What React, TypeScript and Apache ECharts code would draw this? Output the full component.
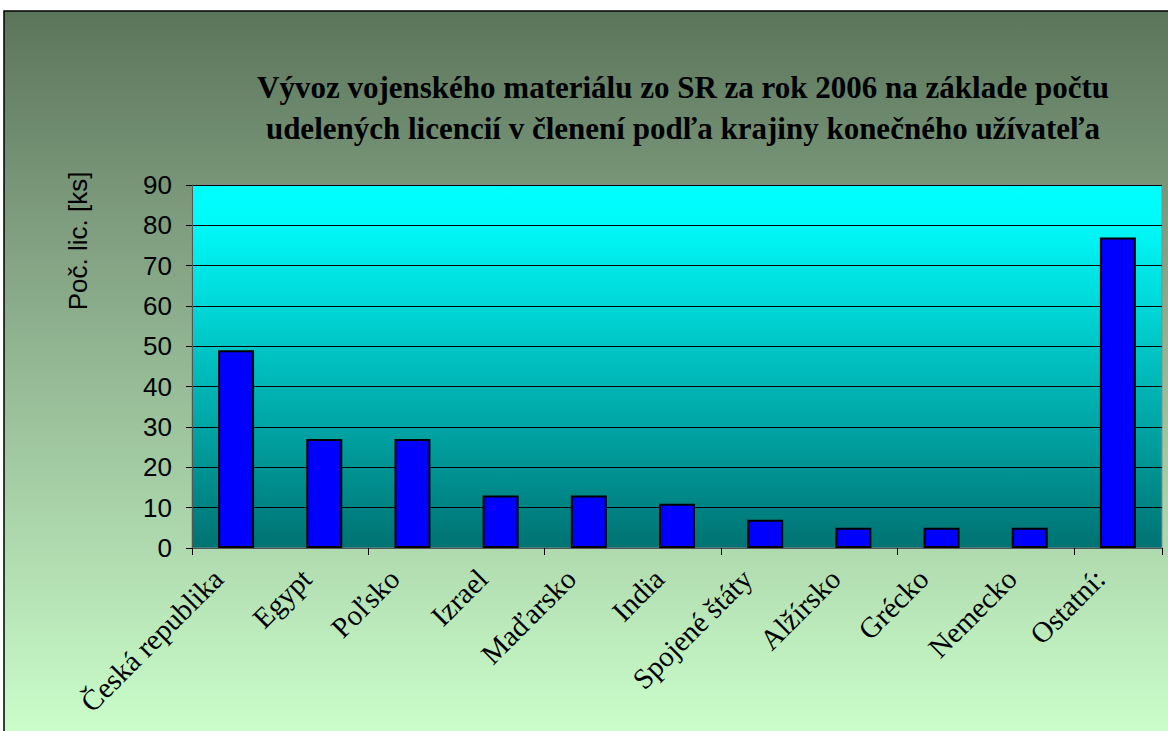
import React, { useEffect, useRef } from "react";
import * as echarts from "echarts";

const categories = [
  "Česká republika",
  "Egypt",
  "Poľsko",
  "Izrael",
  "Maďarsko",
  "India",
  "Spojené štáty",
  "Alžírsko",
  "Grécko",
  "Nemecko",
  "Ostatní:",
];
const licences = [49, 27, 27, 13, 13, 11, 7, 5, 5, 5, 77];
const titleLines = [
  "Vývoz vojenského materiálu zo SR za rok 2006 na základe počtu",
  "udelených licencií v členení podľa krajiny konečného užívateľa",
];
const yAxisName = "Poč. lic. [ks]";

export default function App() {
  const ref = useRef<HTMLDivElement>(null);
  useEffect(() => {
    if (!ref.current) return;
    const chart = echarts.init(ref.current, null, { renderer: "svg" });
    const titleStyle = {
      fontFamily: "Liberation Serif",
      fontWeight: "bold",
      fontSize: 31,
      fill: "#000",
      align: "center",
      verticalAlign: "middle",
    };
    chart.setOption({
      animation: false,
      backgroundColor: "#ffffff",
      graphic: [
        {
          type: "rect",
          z: -10,
          silent: true,
          shape: { x: 4, y: 11, width: 1170, height: 730 },
          style: {
            fill: new echarts.graphic.LinearGradient(0, 0, 0, 1, [
              { offset: 0, color: "#5b755b" },
              { offset: 0.25, color: "#7a977a" },
              { offset: 1, color: "#ccffcc" },
            ]),
            stroke: "#000000",
            lineWidth: 1.5,
          },
        },
        { type: "text", x: 683, y: 87, style: { ...titleStyle, text: titleLines[0] } },
        { type: "text", x: 683, y: 128, style: { ...titleStyle, text: titleLines[1] } },
        {
          type: "text",
          x: 78,
          y: 241,
          rotation: Math.PI / 2,
          style: {
            text: yAxisName,
            fontFamily: "Liberation Sans",
            fontSize: 26,
            fill: "#000",
            align: "center",
            verticalAlign: "middle",
          },
        },
      ],
      grid: [
        {
          left: 192,
          top: 185,
          width: 970,
          height: 363,
          show: true,
          borderColor: "#7f8f8f",
          borderWidth: 1,
          backgroundColor: new echarts.graphic.LinearGradient(0, 0, 0, 1, [
            { offset: 0, color: "#00ffff" },
            { offset: 0.1, color: "#00fafa" },
            { offset: 1, color: "#007272" },
          ]),
        },
        { left: 174, top: 185, width: 970, height: 363, show: false },
      ],
      xAxis: [
        {
          type: "category",
          gridIndex: 0,
          data: categories,
          axisLine: { show: true, lineStyle: { color: "#555555", width: 1 } },
          axisTick: { show: true, length: 7, alignWithLabel: false, lineStyle: { color: "#000" } },
          axisLabel: { show: false },
        },
        {
          type: "category",
          gridIndex: 1,
          data: categories,
          axisLine: { show: false },
          axisTick: { show: false },
          axisLabel: {
            interval: 0,
            rotate: 45,
            margin: 26,
            fontFamily: "Liberation Serif",
            fontSize: 29,
            color: "#000",
          },
        },
      ],
      yAxis: [
        {
          type: "value",
          gridIndex: 0,
          min: 0,
          max: 90,
          interval: 10,
          axisLine: { show: true, lineStyle: { color: "#555555", width: 1 } },
          axisTick: { show: true, length: 6, lineStyle: { color: "#000" } },
          axisLabel: {
            margin: 20,
            fontFamily: "Liberation Sans",
            fontSize: 26,
            color: "#000",
          },
          splitLine: { show: true, lineStyle: { color: "#000", width: 1 } },
        },
        {
          type: "value",
          gridIndex: 1,
          min: 0,
          max: 90,
          interval: 10,
          show: false,
        },
      ],
      series: [
        {
          type: "bar",
          xAxisIndex: 0,
          yAxisIndex: 0,
          data: licences,
          barWidth: 36,
          itemStyle: { color: "#0000ff", borderColor: "#000", borderWidth: 2 },
        },
      ],
    });
    return () => chart.dispose();
  }, []);
  return (
    <div
      ref={ref}
      style={{ position: "absolute", left: 0, top: 0, width: 1168, height: 731 }}
    />
  );
}
